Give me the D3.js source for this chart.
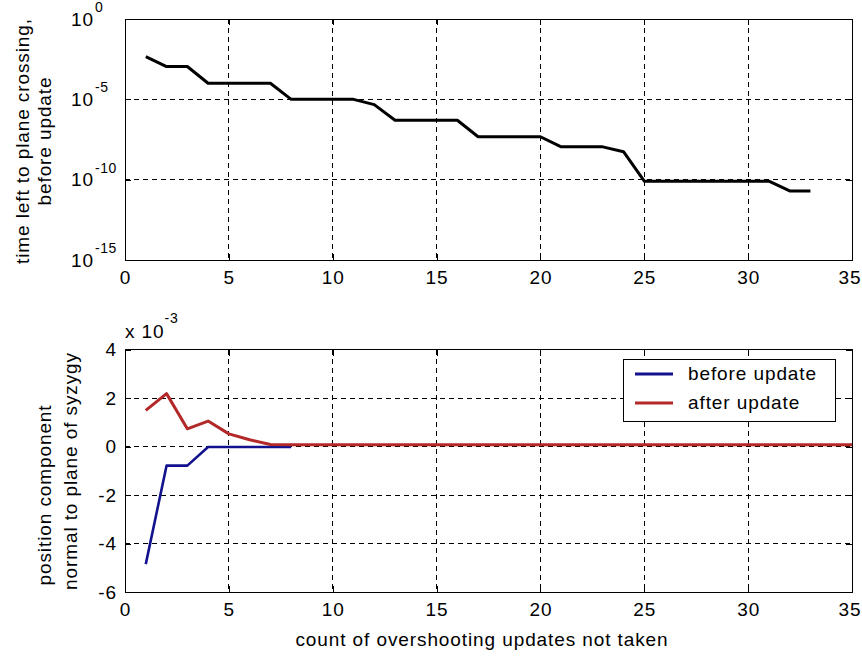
<!DOCTYPE html>
<html lang="en">
<head>
<meta charset="UTF-8">
<title>time left to plane crossing / position component</title>
<script src="https://cdn.jsdelivr.net/npm/d3@7"></script>
<style>
  body { margin: 0; background: #fff; }
  svg text { font-family: "Liberation Sans", Arial, sans-serif; font-size: 19px; fill: #000; letter-spacing: 0.9px; }
  .tick line { stroke: #000; }
</style>
</head>
<body>
<div id="chart"></div>
<script>
// ---- data ----
// top panel: count vs time left (seconds, log axis)
const countTop = [1, 2, 3, 4, 5, 6, 7, 8, 9, 10, 11, 12, 13, 14, 15, 16, 17,
  18, 19, 20, 21, 22, 23, 24, 25, 26, 27, 28, 29, 30, 31, 32, 33];
const timeLeft = [4.5e-3, 1.1e-3, 1.1e-3, 1e-4, 1e-4, 1e-4, 1e-4, 1e-5, 1e-5, 1e-5, 1e-5,
  4.7e-6, 5e-7, 5e-7, 5e-7, 5e-7, 4.7e-8, 4.7e-8, 4.7e-8, 4.7e-8, 1.1e-8, 1.1e-8, 1.1e-8,
  5.5e-9, 8e-11, 8e-11, 8e-11, 8e-11, 8e-11, 8e-11, 8e-11, 2e-11, 2e-11];

// bottom panel: position component (x 10^-3)
const countBefore = [1, 2, 3, 4, 5, 6, 7, 8];
const posBefore = [-4.85, -0.79, -0.79, -0.02, -0.02, -0.02, -0.02, -0.02];
const countAfter = [1, 2, 3, 4, 5, 6, 7, 8, 9, 10, 11, 12, 13, 14, 15, 16, 17, 18,
  19, 20, 21, 22, 23, 24, 25, 26, 27, 28, 29, 30, 31, 32, 33, 34, 35];
const posAfter = [1.49, 2.18, 0.73, 1.05, 0.52, 0.28, 0.08, 0.07, 0.07, 0.07, 0.07, 0.07,
  0.07, 0.07, 0.07, 0.07, 0.07, 0.07, 0.07, 0.07, 0.07, 0.07, 0.07, 0.07, 0.07, 0.07,
  0.07, 0.07, 0.07, 0.07, 0.07, 0.07, 0.07, 0.07, 0.07];

const xTicks = [0, 5, 10, 15, 20, 25, 30, 35];
const yTicksTop = [1, 1e-5, 1e-10, 1e-15];
const yExpTop = ["0", "-5", "-10", "-15"];
const yTicksBot = [4, 2, 0, -2, -4, -6];
const legendNames = ["before update", "after update"];
const colors = { before: "#12128f", after: "#b32828" };

// ---- layout ----
const W = 862, H = 657;
const left = 125, right = 852;
const top1 = 19, bot1 = 260;
const top2 = 349.5, bot2 = 592;
const tickLen = 6;

const svg = d3.select("#chart").append("svg")
  .attr("width", W).attr("height", H);

const x = d3.scaleLinear().domain([0, 35]).range([left, right]);
const y1 = d3.scaleLog().domain([1e-15, 1]).range([bot1, top1]);
const y2 = d3.scaleLinear().domain([-6, 4]).range([bot2, top2]);

function panel(yScale, yTicks, top, bot) {
  const g = svg.append("g");
  // grid
  g.append("g").selectAll("line").data(xTicks.slice(1, -1)).enter().append("line")
    .attr("x1", d => x(d)).attr("x2", d => x(d)).attr("y1", top).attr("y2", bot)
    .attr("stroke", "#000").attr("stroke-dasharray", "5,4").attr("shape-rendering", "crispEdges");
  g.append("g").selectAll("line").data(yTicks.slice(1, -1)).enter().append("line")
    .attr("x1", left).attr("x2", right).attr("y1", d => yScale(d)).attr("y2", d => yScale(d))
    .attr("stroke", "#000").attr("stroke-dasharray", "5,4").attr("shape-rendering", "crispEdges");

  // inner ticks on all four sides
  const bottomAxis = g.append("g").attr("transform", `translate(0,${bot})`)
    .call(d3.axisBottom(x).tickValues(xTicks).tickSize(-tickLen).tickPadding(11));
  // last label sits at the window edge: keep it inside
  bottomAxis.selectAll(".tick text").filter(d => d === xTicks[xTicks.length - 1])
    .attr("text-anchor", "end").attr("x", 861 - right);
  g.append("g").attr("transform", `translate(0,${top})`)
    .call(d3.axisTop(x).tickValues(xTicks).tickSize(-tickLen).tickFormat(""));
  g.append("g").attr("transform", `translate(${left},0)`)
    .call(d3.axisLeft(yScale).tickValues(yTicks).tickSize(-tickLen).tickFormat(""));
  g.append("g").attr("transform", `translate(${right},0)`)
    .call(d3.axisRight(yScale).tickValues(yTicks).tickSize(-tickLen).tickFormat(""));
  g.selectAll(".domain").remove();
  g.selectAll(".tick line").attr("shape-rendering", "crispEdges");

  // box
  g.append("rect").attr("x", left).attr("y", top)
    .attr("width", right - left).attr("height", bot - top)
    .attr("fill", "none").attr("stroke", "#000").attr("shape-rendering", "crispEdges");
  return g;
}

// ---- top panel ----
const gTop = panel(y1, yTicksTop, top1, bot1);

gTop.append("g").selectAll("text").data(yTicksTop).enter().append("text")
  .attr("x", 94).attr("y", d => y1(d)).attr("dy", "0.35em")
  .attr("text-anchor", "end").text("10");
gTop.append("g").selectAll("text").data(yTicksTop).enter().append("text")
  .attr("x", 95).attr("y", d => y1(d) - 7)
  .style("font-size", "14px").style("letter-spacing", "0.5px")
  .text((d, i) => yExpTop[i]);

gTop.append("path")
  .datum(countTop.map((c, i) => [c, timeLeft[i]]))
  .attr("fill", "none").attr("stroke", "#000").attr("stroke-width", 3)
  .attr("stroke-linejoin", "round")
  .attr("d", d3.line().x(d => x(d[0])).y(d => y1(d[1])));

const yl1 = gTop.append("text").attr("text-anchor", "middle")
  .attr("transform", `translate(0,141) rotate(-90)`);
yl1.append("tspan").attr("x", 0).attr("y", 29).text("time left to plane crossing,");
yl1.append("tspan").attr("x", 0).attr("y", 51).text("before update");

// ---- bottom panel ----
const gBot = panel(y2, yTicksBot, top2, bot2);

gBot.append("g").selectAll("text").data(yTicksBot).enter().append("text")
  .attr("x", 117).attr("y", d => y2(d)).attr("dy", "0.35em")
  .attr("text-anchor", "end").text(d => d);

const mult = gBot.append("text").attr("x", 125).attr("y", 338);
mult.append("tspan").text("x 10");
mult.append("tspan").attr("dy", -15).style("font-size", "14px").text("-3");

const line2 = d3.line().x(d => x(d[0])).y(d => y2(d[1]));
gBot.append("path")
  .datum(countBefore.map((c, i) => [c, posBefore[i]]))
  .attr("fill", "none").attr("stroke", colors.before).attr("stroke-width", 2.6)
  .attr("stroke-linejoin", "round").attr("d", line2);
gBot.append("path")
  .datum(countAfter.map((c, i) => [c, posAfter[i]]))
  .attr("fill", "none").attr("stroke", colors.after).attr("stroke-width", 3)
  .attr("stroke-linejoin", "round").attr("d", line2);

// each label line is placed on its own, as in the source figure
gBot.append("text").attr("text-anchor", "middle")
  .attr("transform", "translate(51,495) rotate(-90)").text("position component");
gBot.append("text").attr("text-anchor", "middle")
  .attr("transform", "translate(77,471) rotate(-90)").text("normal to plane of syzygy");

gBot.append("text").attr("x", 482).attr("y", 646).attr("text-anchor", "middle")
  .text("count of overshooting updates not taken");

// legend
const lg = gBot.append("g").attr("transform", "translate(623,359)");
lg.append("rect").attr("width", 212).attr("height", 62)
  .attr("fill", "#fff").attr("stroke", "#000").attr("shape-rendering", "crispEdges");
const items = lg.selectAll("g.item").data(legendNames).enter().append("g")
  .attr("transform", (d, i) => `translate(0,${15 + i * 29})`);
items.append("line").attr("x1", 12).attr("x2", 50)
  .attr("stroke", (d, i) => i === 0 ? colors.before : colors.after)
  .attr("stroke-width", 3);
items.append("text").attr("x", 65).attr("y", 6).text(d => d);
</script>
</body>
</html>
